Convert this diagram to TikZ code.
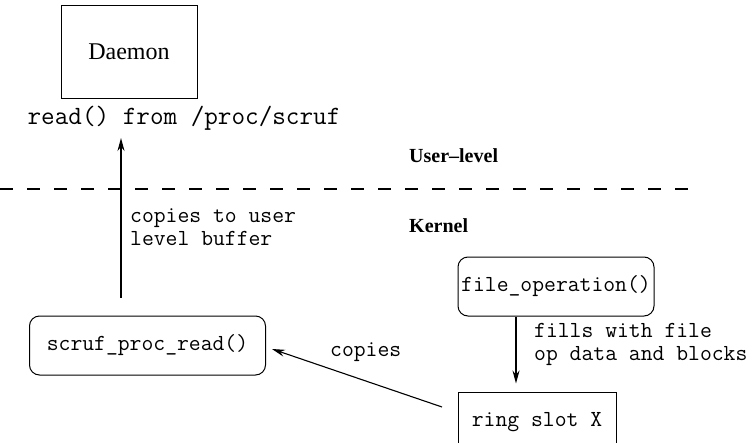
\documentclass[tikz,border=0pt]{standalone}
\usepackage{fontspec}
\setmainfont{Liberation Serif}
\usetikzlibrary{arrows.meta,calc}
\begin{document}
\begin{tikzpicture}[x=1pt,y=-1pt,
  box/.style={draw,line width=1pt,inner sep=0pt,font=\fontsize{23}{25}\selectfont\ttfamily},
  rbox/.style={box,rounded corners=10pt},
  lbl/.style={font=\fontsize{23}{23}\selectfont\ttfamily,align=left,inner sep=0pt,anchor=west},
  bold/.style={font=\fontsize{20}{22}\selectfont\bfseries,inner sep=0pt,anchor=west},
  arr/.style={line width=1.3pt,-{Stealth[length=13pt,width=7pt]}}]
\useasboundingbox (0,0) rectangle (755,442);
\node[box,minimum width=136pt,minimum height=93pt,font=\fontsize{24}{26}\selectfont] (daemon) at (129,51.5) {Daemon};
\node[inner sep=0pt,font=\fontsize{26.4}{28}\selectfont\ttfamily] (read) at (184,118) {read() from /proc/scruf};
\node[bold] (user) at (409,156) {User–level};
\node[bold] (kernel) at (409,226) {Kernel};
\draw[line width=2.8pt,dash pattern=on 13pt off 14pt] (0,189) -- (690,189);
\node[rbox,minimum width=236pt,minimum height=59pt] (scruf) at (147.5,345.5) {scruf\_proc\_read()};
\node[rbox,minimum width=196pt,minimum height=59pt] (fop) at (556,286.5) {file\_operation()};
\node[box,minimum width=158pt,minimum height=60pt] (ring) at (537,422) {ring slot X};
\node[lbl] (ctu) at (130,227) {copies to user\\level buffer};
\node[lbl] (fill) at (534,344) {fills with file\\op data and blocks};
\node[lbl] (cop) at (330,352) {copies};
\draw[arr] ([shift={(-26.5,-18)}]scruf.north) -- ([xshift=-63]read.south |- 0,138);
\draw[arr] ([xshift=-40]fop.south) -- ([shift={(-21,-8)}]ring.north);
\coordinate (cs) at (442,407);
\coordinate (ce) at (272,349);
\draw[arr,line width=1.1pt] (cs) -- (ce);
\end{tikzpicture}
\end{document}
